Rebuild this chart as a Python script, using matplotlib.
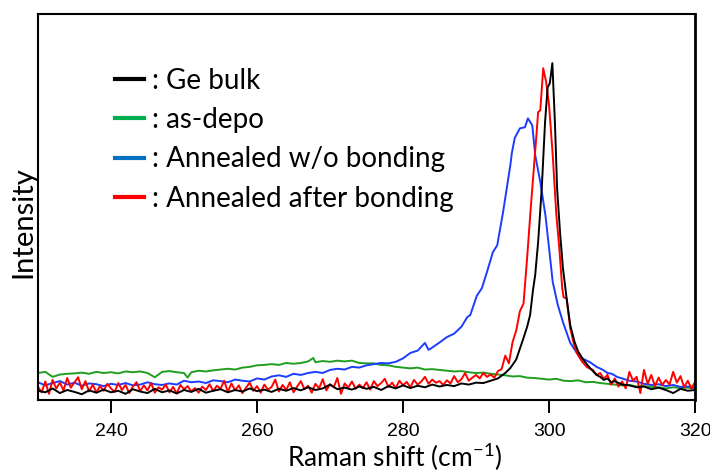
import numpy as np
import matplotlib
matplotlib.use("Agg")
from matplotlib import pyplot as plt
from matplotlib.lines import Line2D

plt.rcParams['mathtext.fontset'] = 'custom'
plt.rcParams['mathtext.rm'] = 'Lato'
plt.rcParams['mathtext.it'] = 'Lato'

# Raman spectra (intensity in arbitrary units, 0-100)
bulk_x = [230, 231, 232, 233, 234, 235, 236, 237, 238, 239, 240, 241, 242, 243, 244, 245, 246, 247, 248, 249,
          250, 251, 252, 253, 254, 255, 256, 257, 258, 259, 260, 261, 262, 263, 264, 265, 266, 267, 268, 269,
          270, 271, 272, 273, 274, 275, 276, 277, 278, 279, 280, 281, 282, 283, 284, 285, 286, 287, 288, 289,
          290, 291, 292, 293, 294, 294.7, 295.5, 296.4, 297.0, 297.4, 297.8, 298.1, 298.5, 299.0, 299.45,
          299.8, 300.1, 300.45, 300.8, 301.1, 301.5, 301.9, 302.4, 302.9, 303.5, 304.0, 304.7, 305.6, 306.5,
          307, 307.5, 308, 308.5, 309, 310, 311, 312, 313, 314, 315, 316, 317, 318, 319, 320]
bulk_y = [2.4, 2.0, 3.0, 1.8, 2.6, 2.1, 1.5, 2.5, 1.9, 2.7, 2.0, 2.4, 1.6, 2.8, 2.2, 1.8, 2.9, 2.0, 2.5, 1.7,
          2.6, 2.1, 2.9, 1.9, 2.4, 2.8, 2.0, 2.6, 2.2, 3.0, 2.3, 2.7, 2.1, 2.9, 2.4, 3.1, 2.5, 3.3, 2.6, 3.0,
          4.0, 2.8, 3.2, 2.7, 3.5, 2.9, 3.4, 2.6, 3.6, 3.0, 3.8, 3.1, 3.7, 3.3, 4.0, 3.5, 3.9, 3.6, 4.3, 4.0,
          4.5, 4.4, 5.0, 5.6, 7.0, 8.3, 10.5, 15.5, 19.0, 22.0, 28.5, 32.4, 40.9, 54.9, 72.0,
          81.0, 82.1, 87.3, 72.0, 54.9, 43.5, 34.2, 26.4, 19.4, 15.0, 12.5, 10.4, 8.3, 6.5,
          6.0, 5.2, 5.6, 4.6, 4.9, 4.0, 3.8, 3.3, 3.5, 2.8, 3.2, 2.6, 1.8, 2.9, 2.4, 2.6]

depo_x = [230, 231, 232, 233, 234, 235, 236, 237, 238, 239, 240, 241, 242, 243, 244, 245, 246, 247, 248, 249,
          250, 250.5, 251, 252, 253, 254, 255, 256, 257, 258, 259, 260, 261, 262, 263, 264, 265, 266, 267,
          267.7, 268, 269, 270, 271, 272, 273, 274, 275, 276, 277, 278, 279, 280, 281, 282, 283, 284, 285,
          286, 287, 288, 289, 290, 291, 292, 293, 294, 295, 296, 297, 298, 299, 300, 301, 302, 303, 304,
          305, 306, 307, 308, 309, 310, 311, 312, 313, 314, 315, 316, 317, 318, 319, 320]
depo_y = [7.0, 7.3, 6.0, 6.6, 6.8, 6.9, 7.1, 6.8, 7.3, 7.0, 7.2, 6.9, 7.4, 7.2, 7.4, 7.0, 5.9, 7.3, 7.5, 7.2,
          7.0, 5.8, 7.2, 7.6, 7.4, 7.7, 7.9, 8.1, 7.9, 8.4, 8.6, 9.0, 9.1, 9.3, 9.1, 9.6, 9.4, 9.6, 10.0,
          10.9, 9.8, 10.1, 9.9, 10.2, 10.0, 10.2, 9.6, 9.5, 9.5, 9.1, 9.0, 8.6, 8.4, 8.2, 8.4, 7.9, 8.0, 7.8,
          7.6, 7.4, 7.5, 7.2, 7.0, 7.1, 6.8, 6.6, 6.4, 6.1, 6.2, 5.8, 5.7, 5.5, 5.3, 5.5, 5.0, 4.9, 5.1,
          4.6, 4.7, 4.4, 4.2, 4.0, 3.8, 3.9, 3.5, 3.6, 3.4, 3.3, 3.0, 3.3, 3.1, 3.2, 3.0]

wo_x = [230, 231, 232, 233, 234, 235, 236, 237, 238, 239, 240, 241, 242, 243, 244, 245, 246, 247, 248, 249,
        250, 251, 252, 253, 254, 255, 256, 257, 258, 259, 260, 261, 262, 263, 264, 265, 266, 267, 268, 269,
        270, 271, 272, 273, 274, 275, 276, 277, 278, 279, 280, 281, 282, 283, 283.5, 284, 285, 286, 287,
        287.5, 288, 288.8, 289.2, 290.1, 290.8, 291.5, 292.3, 292.9, 293.7, 294.7, 294.9, 295.3, 296.0,
        296.7, 297.1, 297.7, 298.1, 298.8, 299.5, 300.1, 300.5, 301.2, 301.9, 302.9, 304.2, 305.6, 306.5,
        307.4, 308, 308.6, 309.3, 310, 311, 312, 313, 314, 315, 316, 317, 318, 319, 320]
wo_y = [4.6, 3.8, 4.4, 4.9, 4.0, 4.5, 3.7, 4.3, 4.1, 3.6, 4.2, 3.9, 4.4, 3.8, 4.0, 4.6, 4.1, 3.9, 4.3, 4.0,
        5.0, 4.6, 4.8, 4.4, 5.1, 4.9, 4.6, 5.3, 5.0, 4.8, 5.6, 5.3, 6.1, 6.4, 6.0, 6.8, 6.5, 7.0, 7.3, 7.0,
        7.8, 8.1, 7.9, 8.6, 8.4, 9.0, 9.3, 9.6, 9.5, 9.9, 10.8, 12.2, 12.8, 14.8, 13.0, 13.6, 14.9, 16.3, 17.2,
        18.1, 19.0, 21.5, 22.0, 27.0, 29.0, 33.2, 38.3, 40.1, 48.7, 60.9, 64.0, 67.9, 70.4,
        70.7, 73.0, 71.2, 63.5, 56.5, 47.9, 37.6, 30.6, 24.6, 20.2, 14.8, 11.1, 9.8, 8.6,
        7.8, 7.0, 6.8, 6.0, 5.6, 5.0, 4.8, 4.2, 3.9, 4.1, 3.6, 3.9, 3.4, 3.5, 3.2]

after_x = [230, 230.5, 231, 231.5, 232, 232.5, 233, 233.5, 234, 234.5, 235, 235.5, 236, 236.5, 237, 237.5,
           238, 238.5, 239, 239.5, 240, 240.5, 241, 241.5, 242, 242.5, 243, 243.5, 244, 244.5, 245, 245.5,
           246, 246.5, 247, 247.5, 248, 248.5, 249, 249.5, 250, 250.5, 251, 251.5, 252, 252.5, 253, 253.5,
           254, 254.5, 255, 255.5, 256, 256.5, 257, 257.5, 258, 258.5, 259, 259.5, 260, 260.5, 261, 261.5,
           262, 262.5, 263, 263.5, 264, 264.5, 265, 265.5, 266, 266.5, 267, 267.5, 268, 268.5, 269, 269.5,
           270, 270.5, 271, 271.5, 272, 272.5, 273, 273.5, 274, 274.5, 275, 275.5, 276, 276.5, 277, 277.5,
           278, 278.5, 279, 279.5, 280, 280.5, 281, 281.5, 282, 282.5, 283, 283.5, 284, 284.5, 285, 285.5,
           286, 286.5, 287, 287.5, 288, 288.5, 289, 289.5, 290, 290.5, 291, 291.5, 292, 292.5, 293, 293.5,
           294, 294.5, 295, 295.5, 296, 296.5, 297, 297.5, 298, 298.3, 298.5, 298.8, 299.2, 299.6, 300.0,
           300.5, 301.0, 301.4, 301.8, 302.0, 302.4, 302.9, 303.4, 303.8, 304.5, 305.2, 306, 306.5, 307,
           307.5, 308, 308.5, 309, 309.5, 310, 310.5, 311, 311.5, 312, 312.5, 313, 313.5, 314, 314.5, 315,
           315.5, 316, 316.5, 317, 317.5, 318, 318.5, 319, 319.5, 320]
after_y = [3.4, 2.0, 4.8, 1.6, 5.2, 3.0, 4.5, 2.5, 5.7, 3.2, 4.6, 5.9, 2.8, 4.9, 2.2, 4.0,
           2.0, 3.6, 2.4, 4.2, 3.0, 2.1, 4.4, 2.6, 3.9, 1.8, 3.5, 4.6, 2.3, 3.8, 2.5, 4.4,
           1.9, 3.3, 2.7, 4.0, 2.0, 3.4, 1.7, 3.9, 2.8, 3.6, 2.2, 3.1, 1.9, 3.5, 2.6, 4.1,
           2.3, 3.7, 2.9, 5.0, 2.1, 4.3, 2.5, 3.8, 1.8, 3.2, 4.5, 2.4, 3.6, 1.9, 4.0, 2.7,
           3.4, 5.3, 2.2, 3.9, 2.6, 4.6, 2.0, 3.5, 4.9, 2.8, 3.7, 1.9, 4.2, 3.0, 5.4, 2.5,
           4.1, 3.3, 5.7, 1.6, 4.3, 3.2, 4.8, 2.9, 4.0, 3.1, 4.6, 2.7, 4.9, 3.6, 4.4, 5.5,
           3.4, 4.5, 3.1, 5.0, 3.8, 4.7, 3.3, 5.2, 4.0, 4.8, 6.0, 4.2, 5.3, 4.5, 4.9, 3.9,
           5.1, 4.3, 6.2, 4.6, 5.4, 7.0, 5.0, 5.8, 6.5, 5.6, 7.0, 6.0, 6.6, 5.8, 7.5, 8.0,
           11.5, 9.5, 15.0, 18.0, 23.0, 25.0, 37.0, 50.0, 62.0, 69.4, 74.6, 75.1, 86.0, 82.4, 76.4,
           63.5, 47.9, 39.4, 29.0, 26.6, 26.4, 18.6, 14.5, 12.2, 10.0, 8.5, 7.8, 6.5, 7.0,
           5.5, 6.5, 4.0, 5.6, 3.5, 4.8, 3.0, 7.3, 5.0, 6.0, 1.8, 7.8, 4.2, 6.5, 3.6, 5.8,
           3.9, 5.2, 4.0, 7.3, 4.5, 6.2, 3.3, 5.0, 3.0, 4.7]

labels = [": Ge bulk", ": as-depo", ": Annealed w/o bonding", ": Annealed after bonding"]
xticks = [240, 260, 280, 300, 320]

fig = plt.figure(figsize=(7.1, 4.72), dpi=100)
ax = fig.add_axes([0.0535, 0.1525, 0.9255, 0.8175])

ax.plot(depo_x, depo_y, color='#1f9e1f', lw=1.4)
ax.plot(wo_x, wo_y, color='#1c3cff', lw=1.4)
ax.plot(after_x, after_y, color='#ff0000', lw=1.4)
ax.plot(bulk_x, bulk_y, color='black', lw=1.4)

ax.set_xlim(230, 320)
ax.set_ylim(0, 100)
ax.set_xticks(xticks)
ax.set_yticks([])
ax.tick_params(axis='x', direction='out', length=9.5, width=1.4, pad=7)
for lab in ax.get_xticklabels():
    lab.set_family(['Liberation Sans Narrow', 'Liberation Sans'])
    lab.set_fontsize(14)
for s in ax.spines.values():
    s.set_linewidth(1.5)
ax.spines['right'].set_linewidth(2)

ax.set_xlabel(r"Raman shift (cm$^{\mathrm{-1}}$)", family='Lato', fontsize=19, labelpad=1, x=0.542)
ax.set_ylabel("Intensity", family='Lato', fontsize=21, labelpad=1, y=0.46)

handles = [Line2D([], [], color=c, lw=3) for c in ['black', '#00b050', '#0070c0', '#ff0000']]
leg = ax.legend(handles, labels, loc='upper left', bbox_to_anchor=(0.1, 0.89), frameon=False,
                prop={'family': 'Lato', 'size': 20}, handlelength=1.05, handletextpad=0.3,
                labelspacing=0.48, borderaxespad=0)

fig.savefig("out.png", dpi=100)
